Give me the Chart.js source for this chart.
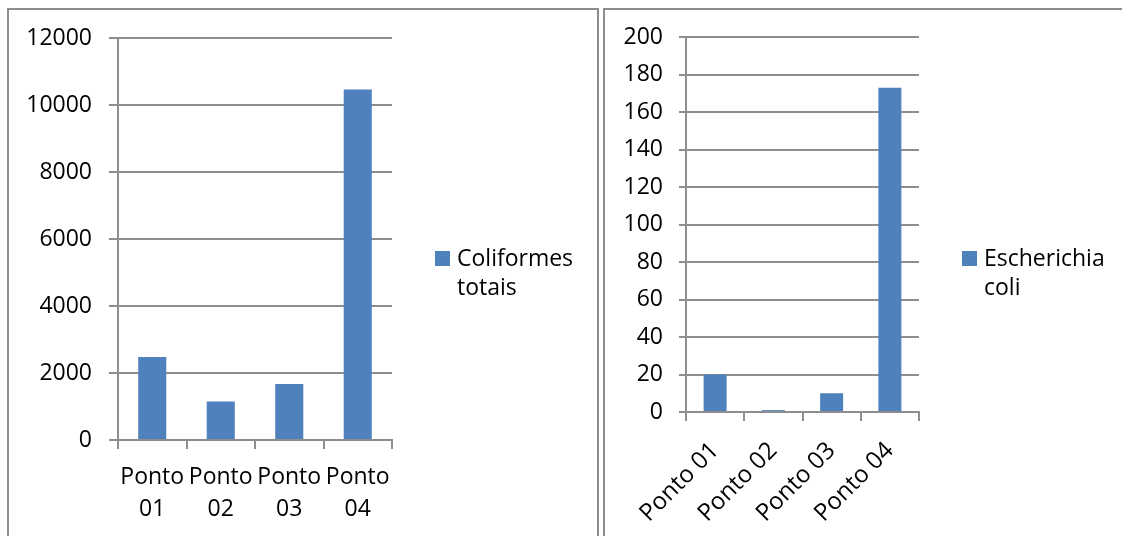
<!DOCTYPE html>
<html>
<head>
<meta charset="utf-8">
<script src="https://cdn.jsdelivr.net/npm/chart.js@4.4.1/dist/chart.umd.min.js"></script>
<style>
  html, body { margin: 0; padding: 0; background: #fff; width: 1122px; height: 536px; overflow: hidden; }
  body { position: relative; font-family: 'Open Sans', sans-serif; }
  .panel { position: absolute; top: 8px; height: 560px; border: 2px solid #8c8c8c; box-sizing: border-box; background: #fff; }
  #p1 { left: 7px; width: 592px; }
  #p2 { left: 603px; width: 600px; }
  canvas { position: absolute; left: 0; top: 0; }
</style>
</head>
<body>
<div class="panel" id="p1"><canvas id="c1" width="588" height="526"></canvas></div>
<div class="panel" id="p2"><canvas id="c2" width="517" height="526"></canvas></div>
<script>
// Sampling points
const categoriesLeft = [['Ponto', '01'], ['Ponto', '02'], ['Ponto', '03'], ['Ponto', '04']];
const categoriesRight = ['Ponto 01', 'Ponto 02', 'Ponto 03', 'Ponto 04'];

// Total coliforms
const coliformesLabel = 'Coliformes totais';
const coliformesValues = [2480, 1150, 1670, 10460];

// Escherichia coli
const ecoliLabel = 'Escherichia coli';
const ecoliValues = [20, 1, 10, 173];

const BAR = '#4F81BD';
const GRID = '#8e8e8e';
const FONT = { family: "'Open Sans', sans-serif", size: 23 };

// Legend drawn beside the plot, label split word by word onto separate lines
const sideLegend = {
  id: 'sideLegend',
  afterDraw(chart, args, opts) {
    const ctx = chart.ctx;
    const ds = chart.data.datasets[0];
    const x = chart.chartArea.right + opts.dx;
    const y = opts.top;
    ctx.save();
    ctx.fillStyle = ds.backgroundColor;
    ctx.fillRect(x, y, 15, 15);
    ctx.fillStyle = '#000';
    ctx.font = `${FONT.size}px ${FONT.family}`;
    ctx.textBaseline = 'alphabetic';
    ctx.textAlign = 'left';
    ds.label.split(' ').forEach((w, i) => {
      ctx.fillText(w, x + 22, opts.baseline + i * opts.lineGap);
    });
    ctx.restore();
  }
};

function makeChart(id, labels, label, values, max, step, cfg) {
  return new Chart(document.getElementById(id), {
    type: 'bar',
    data: {
      labels: labels,
      datasets: [{
        label: label,
        data: values,
        backgroundColor: BAR,
        borderWidth: 0,
        barPercentage: cfg.barPct,
        categoryPercentage: 1
      }]
    },
    options: {
      responsive: false,
      animation: false,
      devicePixelRatio: 1,
      layout: { padding: { top: cfg.topPad, right: cfg.rightPad, left: 0, bottom: 0 } },
      plugins: {
        legend: { display: false },
        tooltip: { enabled: false },
        sideLegend: { dx: 43, top: 241, baseline: 256, lineGap: 29 }
      },
      scales: {
        x: {
          grid: { offset: true, drawOnChartArea: false, color: GRID, lineWidth: 2, tickLength: 9 },
          border: { color: GRID, width: 2 },
          ticks: {
            color: '#000',
            font: Object.assign({ lineHeight: 1.38 }, cfg.xFont),
            autoSkip: false,
            maxRotation: cfg.rot,
            minRotation: cfg.rot,
            padding: cfg.xPad
          },
          afterFit(s) { s.height = cfg.xHeight; }
        },
        y: {
          min: 0,
          max: max,
          grid: { color: GRID, lineWidth: 2, tickLength: cfg.yTick },
          border: { color: GRID, width: 2 },
          ticks: {
            stepSize: step,
            color: '#000',
            font: Object.assign({ lineHeight: 0.8 }, FONT),
            padding: cfg.yPad,
            callback: v => String(v)
          },
          afterFit(s) { s.width = cfg.yWidth; }
        }
      }
    },
    plugins: [sideLegend]
  });
}

makeChart('c1', categoriesLeft, coliformesLabel, coliformesValues, 12000, 2000,
  { barPct: 0.41, topPad: 28, rightPad: 205, xHeight: 96, yWidth: 109, yTick: 9, yPad: 17, rot: 0, xPad: 13, xFont: FONT });

makeChart('c2', categoriesRight, ecoliLabel, ecoliValues, 200, 20,
  { barPct: 0.395, topPad: 27, rightPad: 203, xHeight: 124, yWidth: 81, yTick: 7, yPad: 16, rot: 45, xPad: 14,
    xFont: { family: FONT.family, size: 24 } });
</script>
</body>
</html>
